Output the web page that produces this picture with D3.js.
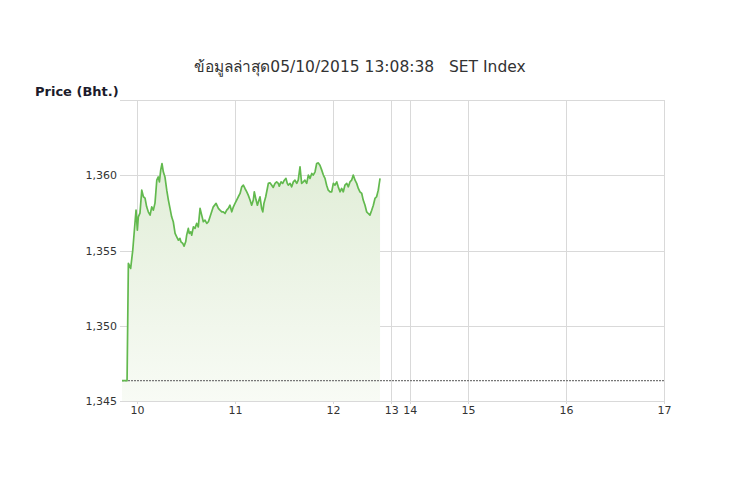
<!DOCTYPE html>
<html><head><meta charset="utf-8">
<script src="https://cdn.jsdelivr.net/npm/d3@7"></script>
<style>body{margin:0;background:#fff} svg{display:block} text{white-space:pre}</style>
</head><body><svg id="chart" width="740" height="493"></svg>
<script>
const titleText = "ข้อมูลล่าสุด05/10/2015 13:08:38   SET Index";
const yAxisTitle = "Price (Bht.)";
// minutes after 10:00
const minutesAfter10 = [-9.2,-6.1,-5.3,-3.9,-2.6,-1.2,-0.6,0.2,0.8,1.8,2.9,3.9,4.9,5.9,6.9,8.0,9.0,10.0,11.0,12.1,13.0,13.7,14.5,15.3,16.1,17.1,18.2,19.2,20.2,21.2,22.2,23.3,24.3,25.3,26.3,26.9,28.0,28.8,29.8,30.4,31.4,32.0,32.9,33.5,34.5,35.5,36.5,37.5,38.6,39.6,40.6,41.6,42.7,43.7,45.7,46.7,48.4,49.8,50.8,51.9,52.8,53.9,54.9,55.9,56.9,58.0,59.0,60.0,61.0,62.0,63.1,64.1,65.1,66.1,67.2,68.1,69.2,70.2,71.2,71.8,72.9,73.7,74.3,75.3,76.3,77.0,77.7,78.8,79.8,80.4,81.4,82.5,83.4,84.5,85.5,86.5,87.1,88.2,89.2,90.2,91.2,92.0,92.6,93.7,94.7,95.7,96.7,97.8,98.7,99.8,100.4,100.8,101.8,102.8,103.9,104.9,105.9,107.0,107.9,109.0,110.0,111.0,112.0,113.1,114.1,115.1,116.1,117.1,118.2,119.2,120.2,121.2,122.3,123.2,124.3,125.3,126.3,127.3,128.4,129.4,130.4,131.4,132.4,133.5,134.5,135.5,136.5,137.6,138.5,139.6,140.6,141.6,142.6,143.7,144.7,145.7,146.7,147.7,148.8];
const prices = [1346.35,1346.35,1354.14,1353.81,1355.03,1356.91,1357.68,1356.35,1357.24,1357.48,1359.01,1358.57,1358.48,1357.90,1357.57,1357.35,1357.90,1357.68,1358.15,1359.67,1359.89,1359.56,1360.34,1360.78,1360.23,1359.89,1359.01,1358.35,1357.80,1357.24,1356.91,1356.14,1355.91,1355.69,1355.80,1355.58,1355.47,1355.29,1355.58,1356.02,1356.47,1356.14,1356.24,1356.02,1356.57,1356.47,1356.80,1356.57,1357.80,1357.35,1356.91,1357.02,1356.80,1356.91,1357.57,1357.90,1358.13,1357.80,1357.68,1357.57,1357.57,1357.46,1357.68,1357.80,1358.01,1357.57,1357.90,1358.13,1358.35,1358.57,1358.79,1359.23,1359.34,1359.12,1358.90,1358.68,1358.35,1358.01,1358.35,1358.90,1358.35,1358.01,1358.23,1358.57,1357.80,1357.57,1358.13,1358.57,1359.12,1359.46,1359.50,1359.34,1359.19,1359.46,1359.56,1359.46,1359.28,1359.56,1359.46,1359.67,1359.79,1359.46,1359.34,1359.46,1359.23,1359.56,1359.67,1359.46,1359.67,1360.56,1359.89,1359.46,1359.56,1359.67,1359.46,1360.01,1359.79,1360.12,1360.01,1360.23,1360.78,1360.82,1360.67,1360.34,1360.01,1359.79,1359.34,1359.01,1358.90,1358.90,1359.46,1359.34,1359.56,1359.23,1358.90,1359.12,1358.90,1359.34,1359.46,1359.23,1359.56,1359.67,1360.01,1359.67,1359.46,1359.12,1358.90,1358.79,1358.35,1358.01,1357.57,1357.46,1357.35,1357.68,1358.01,1358.46,1358.57,1359.01,1359.79];
const prevClose = 1346.35;
const yTicks = [1345, 1350, 1355, 1360];
const yDomain = [1345, 1365];
const xTickHours = [10, 11, 12, 13, 14, 15, 16, 17];
const lunchBreak = [12.5, 14.5];
const closeHour = 17;

const svg = d3.select("#chart");
const L = 122, R = 664, T = 100, B = 401;
const FONT = "Tahoma, 'DejaVu Sans', 'Noto Sans', sans-serif";

const data = minutesAfter10.map((m, i) => ({ h: 10 + m / 60, v: prices[i] }));
const t0 = d3.min(data, d => d.h);

const x = d3.scaleLinear()
  .domain([t0, lunchBreak[0], lunchBreak[1], closeHour])
  .range([L, 382, 419, R]);
const y = d3.scaleLinear().domain(yDomain).range([B, T]);

// gradient
const defs = svg.append("defs");
const grad = defs.append("linearGradient").attr("id", "fillGrad")
  .attr("gradientUnits", "userSpaceOnUse").attr("x1", 0).attr("y1", T).attr("x2", 0).attr("y2", B);
grad.append("stop").attr("offset", "0%").attr("stop-color", "#dbead0");
grad.append("stop").attr("offset", "100%").attr("stop-color", "#f8fbf5");

// title
svg.append("text").attr("x", 360).attr("y", 72).attr("text-anchor", "middle")
  .style("font-family", FONT).style("font-size", "15.5px").attr("fill", "#333")
  .text(titleText);

svg.append("text").attr("x", 35).attr("y", 96)
  .style("font-family", FONT).style("font-size", "13px").style("font-weight", "bold").attr("fill", "#1b1b2b")
  .text(yAxisTitle);

// grid
const g = svg.append("g");
g.selectAll("line.hg").data(yTicks.concat([yDomain[1]])).join("line")
  .attr("x1", 120).attr("x2", R).attr("y1", d => Math.round(y(d)) + 0.5).attr("y2", d => Math.round(y(d)) + 0.5)
  .attr("stroke", "#d9d9d9").attr("stroke-width", 1);
g.selectAll("line.vg").data(xTickHours).join("line")
  .attr("x1", d => Math.round(x(d)) + 0.5).attr("x2", d => Math.round(x(d)) + 0.5)
  .attr("y1", T).attr("y2", B + 3)
  .attr("stroke", "#d9d9d9").attr("stroke-width", 1);

// area + line
const area = d3.area().x(d => x(d.h)).y0(B).y1(d => y(d.v));
svg.append("path").datum(data).attr("d", area).attr("fill", "url(#fillGrad)");

// prev close dashed
svg.append("line").attr("x1", L).attr("x2", R)
  .attr("y1", y(prevClose)).attr("y2", y(prevClose))
  .attr("stroke", "#777").attr("stroke-width", 1.2).attr("stroke-dasharray", "2,1");

const line = d3.line().x(d => x(d.h)).y(d => y(d.v));
svg.append("path").datum(data).attr("d", line).attr("fill", "none")
  .attr("stroke", "#62b94e").attr("stroke-width", 1.7).attr("stroke-linejoin", "round");

// axes labels
const yAxis = d3.axisLeft(y).tickValues(yTicks).tickFormat(d3.format(",")).tickSize(0).tickPadding(3);
const ya = svg.append("g").attr("transform", `translate(${120},0)`).call(yAxis);
ya.select(".domain").remove();
ya.selectAll("text").style("font-family", FONT).style("font-size", "11px").attr("fill", "#333");

const xAxis = d3.axisBottom(x).tickValues(xTickHours).tickFormat(d => d).tickSize(0).tickPadding(5);
const xa = svg.append("g").attr("transform", `translate(0,${B})`).call(xAxis);
xa.select(".domain").remove();
xa.selectAll("text").style("font-family", FONT).style("font-size", "11px").attr("fill", "#333");
</script></body></html>
